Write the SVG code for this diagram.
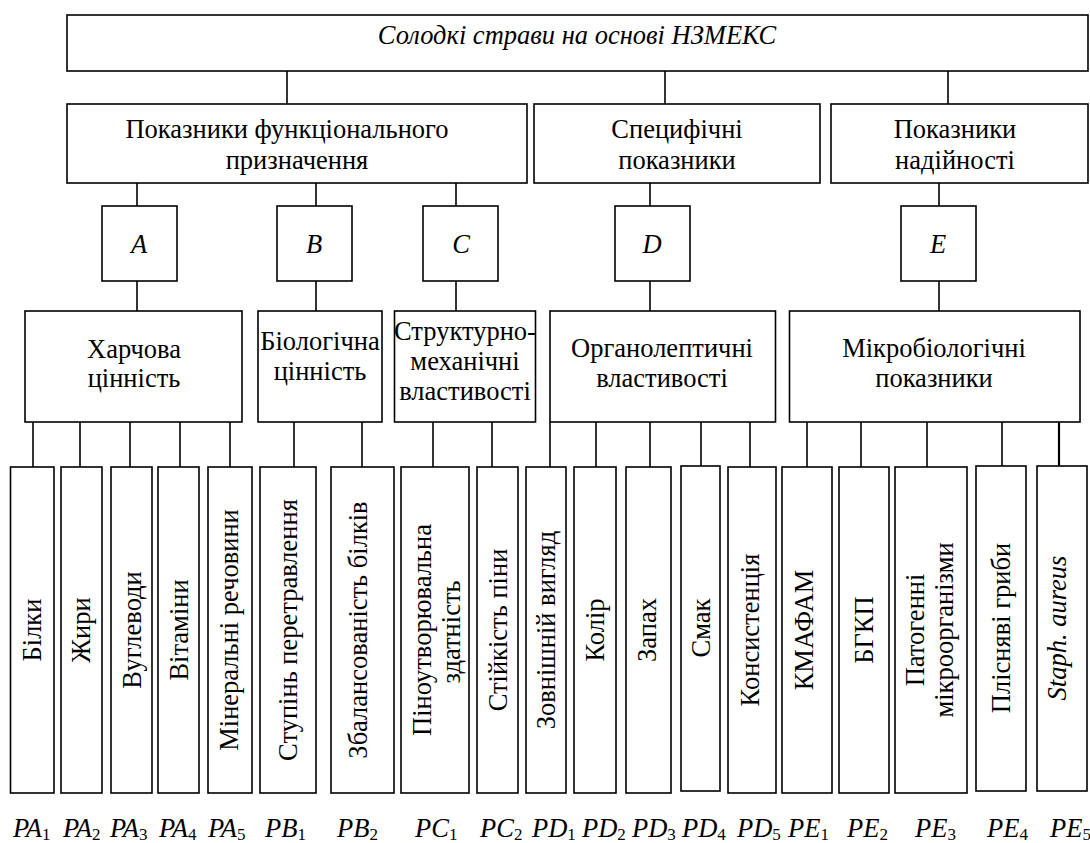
<svg xmlns="http://www.w3.org/2000/svg" width="1090" height="843" viewBox="0 0 1090 843">
<style>
.box{fill:#fff;stroke:#000;stroke-width:1.6}
.conn line{stroke:#000;stroke-width:1.6}
</style>
<rect width="1090" height="843" fill="#fff"/>
<g id="connectors" class="conn">
<line x1="287" y1="71" x2="287" y2="104"/>
<line x1="665" y1="71" x2="665" y2="104"/>
<line x1="948" y1="71" x2="948" y2="104"/>
<line x1="137" y1="183" x2="137" y2="206"/>
<line x1="316" y1="183" x2="316" y2="206"/>
<line x1="456" y1="183" x2="456" y2="206"/>
<line x1="650" y1="183" x2="650" y2="206"/>
<line x1="939" y1="183" x2="939" y2="206"/>
<line x1="137" y1="281" x2="137" y2="311"/>
<line x1="316" y1="281" x2="316" y2="311"/>
<line x1="456" y1="281" x2="456" y2="311"/>
<line x1="650" y1="281" x2="650" y2="311"/>
<line x1="939" y1="281" x2="939" y2="311"/>
<line x1="33" y1="422" x2="33" y2="467"/>
<line x1="80" y1="422" x2="80" y2="467"/>
<line x1="130" y1="422" x2="130" y2="467"/>
<line x1="180" y1="422" x2="180" y2="467"/>
<line x1="230" y1="422" x2="230" y2="467"/>
<line x1="294" y1="422" x2="294" y2="467"/>
<line x1="362" y1="422" x2="362" y2="467"/>
<line x1="433" y1="422" x2="433" y2="467"/>
<line x1="492" y1="422" x2="492" y2="467"/>
<line x1="550" y1="422" x2="550" y2="467"/>
<line x1="596" y1="422" x2="596" y2="467"/>
<line x1="650" y1="422" x2="650" y2="467"/>
<line x1="701" y1="422" x2="701" y2="466"/>
<line x1="750" y1="422" x2="750" y2="467"/>
<line x1="807" y1="422" x2="807" y2="467"/>
<line x1="861" y1="422" x2="861" y2="467"/>
<line x1="927" y1="422" x2="927" y2="467"/>
<line x1="1002" y1="422" x2="1002" y2="466"/>
<line x1="1059" y1="422" x2="1059" y2="466" style="stroke-width:2.2"/>
</g>
<g font-size="26.5" text-anchor="middle" fill="#000">
<g id="root"><rect class="box" x="67" y="15" width="1021" height="56"/><text font-family="Liberation Serif" font-style="italic" x="577" y="44">Солодкі страви на основі НЗМЕКС</text></g>
<g id="func"><rect class="box" x="67" y="104" width="460" height="79"/><text font-family="Liberation Serif" x="287" y="138">Показники функціонального</text><text font-family="Liberation Serif" x="297" y="169">призначення</text></g>
<g id="spec"><rect class="box" x="534" y="104" width="286" height="79"/><text font-family="Liberation Serif" x="677" y="138">Специфічні</text><text font-family="Liberation Serif" x="677" y="169">показники</text></g>
<g id="reliab"><rect class="box" x="831" y="104" width="257" height="79"/><text font-family="Liberation Serif" x="955" y="138">Показники</text><text font-family="Liberation Serif" x="955" y="169">надійності</text></g>
<g id="A"><rect class="box" x="102" y="206" width="75" height="75"/><text font-family="Liberation Serif" font-style="italic" x="139" y="253">A</text></g>
<g id="B"><rect class="box" x="277" y="206" width="75" height="75"/><text font-family="Liberation Serif" font-style="italic" x="314" y="253">B</text></g>
<g id="C"><rect class="box" x="423" y="206" width="75" height="75"/><text font-family="Liberation Serif" font-style="italic" x="461" y="253">C</text></g>
<g id="D"><rect class="box" x="615" y="206" width="75" height="75"/><text font-family="Liberation Serif" font-style="italic" x="652" y="253">D</text></g>
<g id="E"><rect class="box" x="901" y="206" width="75" height="75"/><text font-family="Liberation Serif" font-style="italic" x="938" y="253">E</text></g>
<g id="nutr"><rect class="box" x="25" y="311" width="217" height="111"/><text font-family="Liberation Serif" x="134" y="358">Харчова</text><text font-family="Liberation Serif" x="134" y="387">цінність</text></g>
<g id="bio"><rect class="box" x="258" y="311" width="124" height="111"/><text font-family="Liberation Serif" x="320" y="350">Біологічна</text><text font-family="Liberation Serif" x="320" y="380">цінність</text></g>
<g id="struct"><rect class="box" x="394.5" y="311" width="141" height="111"/><text font-family="Liberation Serif" x="465" y="340">Структурно-</text><text font-family="Liberation Serif" x="465" y="370">механічні</text><text font-family="Liberation Serif" x="465" y="400">властивості</text></g>
<g id="organ"><rect class="box" x="550" y="311" width="225.5" height="111"/><text font-family="Liberation Serif" x="662" y="357">Органолептичні</text><text font-family="Liberation Serif" x="662" y="387">властивості</text></g>
<g id="micro"><rect class="box" x="789.5" y="311" width="290.5" height="111"/><text font-family="Liberation Serif" x="934" y="357">Мікробіологічні</text><text font-family="Liberation Serif" x="934" y="387">показники</text></g>
<g id="PA1"><rect class="box" x="10.5" y="467" width="43.5" height="326"/><text font-family="Liberation Serif" transform="translate(41,630) rotate(-90)">Білки</text></g>
<g id="PA2"><rect class="box" x="61" y="467" width="41" height="326"/><text font-family="Liberation Serif" transform="translate(90,630) rotate(-90)">Жири</text></g>
<g id="PA3"><rect class="box" x="111" y="467" width="41" height="326"/><text font-family="Liberation Serif" transform="translate(140.5,630) rotate(-90)">Вуглеводи</text></g>
<g id="PA4"><rect class="box" x="158" y="467" width="41" height="326"/><text font-family="Liberation Serif" transform="translate(188,630) rotate(-90)">Вітаміни</text></g>
<g id="PA5"><rect class="box" x="208" y="467" width="44" height="326"/><text font-family="Liberation Serif" transform="translate(238,630) rotate(-90)">Мінеральні речовини</text></g>
<g id="PB1"><rect class="box" x="260" y="467" width="56" height="326"/><text font-family="Liberation Serif" transform="translate(297,630) rotate(-90)">Ступінь перетравлення</text></g>
<g id="PB2"><rect class="box" x="331" y="467" width="63" height="326"/><text font-family="Liberation Serif" transform="translate(367,630) rotate(-90)">Збалансованість білків</text></g>
<g id="PC1"><rect class="box" x="401" y="467" width="68" height="326"/><text font-family="Liberation Serif" transform="translate(430.5,630) rotate(-90)">Піноутворювальна</text><text font-family="Liberation Serif" transform="translate(460,632) rotate(-90)">здатність</text></g>
<g id="PC2"><rect class="box" x="477" y="467" width="41" height="326"/><text font-family="Liberation Serif" transform="translate(507,630) rotate(-90)">Стійкість піни</text></g>
<g id="PD1"><rect class="box" x="526" y="467" width="40" height="326"/><text font-family="Liberation Serif" transform="translate(555,630) rotate(-90)">Зовнішній вигляд</text></g>
<g id="PD2"><rect class="box" x="574" y="467" width="42" height="326"/><text font-family="Liberation Serif" transform="translate(604,630) rotate(-90)">Колір</text></g>
<g id="PD3"><rect class="box" x="626" y="467" width="45" height="326"/><text font-family="Liberation Serif" transform="translate(655.5,630) rotate(-90)">Запах</text></g>
<g id="PD4"><rect class="box" x="681" y="466" width="39" height="325"/><text font-family="Liberation Serif" transform="translate(710,628) rotate(-90)">Смак</text></g>
<g id="PD5"><rect class="box" x="728" y="467" width="48" height="326"/><text font-family="Liberation Serif" transform="translate(759,630) rotate(-90)">Консистенція</text></g>
<g id="PE1"><rect class="box" x="782" y="467" width="50" height="326"/><text font-family="Liberation Serif" transform="translate(813,630) rotate(-90)">КМАФАМ</text></g>
<g id="PE2"><rect class="box" x="839" y="467" width="50" height="326"/><text font-family="Liberation Serif" transform="translate(873,630) rotate(-90)">БГКП</text></g>
<g id="PE3"><rect class="box" x="895" y="467" width="72" height="326"/><text font-family="Liberation Serif" transform="translate(924,630) rotate(-90)">Патогенні</text><text font-family="Liberation Serif" transform="translate(953,630) rotate(-90)">мікроорганізми</text></g>
<g id="PE4"><rect class="box" x="976" y="466" width="50" height="325"/><text font-family="Liberation Serif" transform="translate(1010,628) rotate(-90)">Плісняві гриби</text></g>
<g id="PE5"><rect class="box" x="1037" y="466" width="50" height="325"/><text font-family="Liberation Serif" font-style="italic" transform="translate(1066,628) rotate(-90)">Staph. aureus</text></g>
<g id="labels" text-anchor="start" font-style="italic">
<text font-family="Liberation Serif" x="13" y="837">PA<tspan font-style="normal" font-size="17" dy="3">1</tspan></text>
<text font-family="Liberation Serif" x="63" y="837">PA<tspan font-style="normal" font-size="17" dy="3">2</tspan></text>
<text font-family="Liberation Serif" x="110" y="837">PA<tspan font-style="normal" font-size="17" dy="3">3</tspan></text>
<text font-family="Liberation Serif" x="159" y="837">PA<tspan font-style="normal" font-size="17" dy="3">4</tspan></text>
<text font-family="Liberation Serif" x="208" y="837">PA<tspan font-style="normal" font-size="17" dy="3">5</tspan></text>
<text font-family="Liberation Serif" x="265" y="837">PB<tspan font-style="normal" font-size="17" dy="3">1</tspan></text>
<text font-family="Liberation Serif" x="337" y="837">PB<tspan font-style="normal" font-size="17" dy="3">2</tspan></text>
<text font-family="Liberation Serif" x="415" y="837">PC<tspan font-style="normal" font-size="17" dy="3">1</tspan></text>
<text font-family="Liberation Serif" x="480" y="837">PC<tspan font-style="normal" font-size="17" dy="3">2</tspan></text>
<text font-family="Liberation Serif" x="532" y="837">PD<tspan font-style="normal" font-size="17" dy="3">1</tspan></text>
<text font-family="Liberation Serif" x="582" y="837">PD<tspan font-style="normal" font-size="17" dy="3">2</tspan></text>
<text font-family="Liberation Serif" x="632" y="837">PD<tspan font-style="normal" font-size="17" dy="3">3</tspan></text>
<text font-family="Liberation Serif" x="682" y="837">PD<tspan font-style="normal" font-size="17" dy="3">4</tspan></text>
<text font-family="Liberation Serif" x="737" y="837">PD<tspan font-style="normal" font-size="17" dy="3">5</tspan></text>
<text font-family="Liberation Serif" x="788" y="837">PE<tspan font-style="normal" font-size="17" dy="3">1</tspan></text>
<text font-family="Liberation Serif" x="847" y="837">PE<tspan font-style="normal" font-size="17" dy="3">2</tspan></text>
<text font-family="Liberation Serif" x="915" y="837">PE<tspan font-style="normal" font-size="17" dy="3">3</tspan></text>
<text font-family="Liberation Serif" x="987" y="837">PE<tspan font-style="normal" font-size="17" dy="3">4</tspan></text>
<text font-family="Liberation Serif" x="1050" y="837">PE<tspan font-style="normal" font-size="17" dy="3">5</tspan></text>
</g>
</g>
</svg>
